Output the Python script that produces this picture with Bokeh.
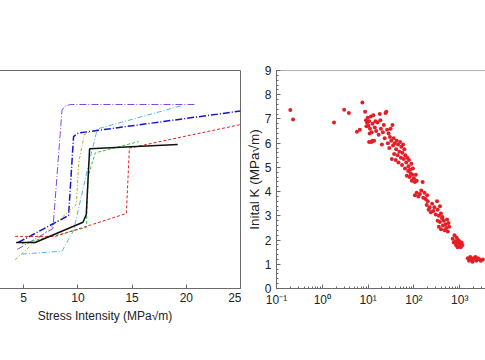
from bokeh.plotting import figure
from bokeh.models import Row, Span, Label, FixedTicker, LogTicker, CustomJSTickFormatter
from bokeh.embed import file_html
from bokeh.resources import INLINE

# ---------------- data: left panel (V-K curves) ----------------
k_ticks = [5, 10, 15, 20, 25]
purple_k = [4.40, 7.70, 8.53, 8.74, 9.29, 20.93]
purple_v = [-9.21, -8.25, -2.83, -2.65, -2.56, -2.56]
navy_k = [4.49, 9.14, 9.60, 10.03, 25.0]
navy_v = [-8.89, -7.65, -4.03, -3.87, -2.86]
cyan_k = [4.83, 8.53, 9.60, 11.14, 11.79, 19.59]
cyan_v = [-9.42, -9.29, -8.34, -4.99, -3.68, -2.61]
olive_k = [4.21, 9.85, 10.08, 10.59, 11.05]
olive_v = [-9.68, -7.15, -5.22, -3.94, -3.82]
green_k = [4.83, 7.91, 10.77, 10.96, 11.60, 15.60]
green_v = [-8.94, -8.57, -8.20, -5.82, -4.78, -4.26]
red_k = [4.21, 7.91, 14.47, 14.75, 25.0]
red_v = [-8.61, -8.61, -7.56, -4.56, -3.48]
black_k = [4.30, 6.06, 10.47, 10.77, 11.08, 19.21]
black_v = [-8.89, -8.89, -7.96, -7.61, -4.59, -4.39]

# ---------------- data: right panel (failure time vs initial K) ----------------
fail_hours = [
    0.2, 0.23, 1.8, 3.0, 3.8, 5.7, 6.6, 7.5, 8.6,
    9.0, 9.5, 9.8, 10.2, 10.5, 11, 11.5, 12, 12.5, 13, 10.8, 11.8, 13.5, 14, 14.5, 15, 9.2, 16,
    17, 18, 18.5, 19, 20, 21, 22, 23, 24, 25, 26, 27, 28, 29, 30, 31, 32, 33, 34, 35, 36, 37,
    38, 40, 41, 42, 44, 45, 46, 48, 50, 52, 53, 55, 56, 58, 60, 62, 64, 65, 68, 70, 72, 75, 76,
    78, 80, 82, 85, 88, 90, 92, 95, 100, 105, 110, 115, 10.5, 12.5,
    105, 115, 125, 135, 145, 160, 170, 180, 195, 155,
    190, 200, 210, 220, 235, 250, 265, 280, 300, 320, 330, 350, 370, 390, 420,
    330, 350, 370, 390, 410, 430, 450, 470, 490, 510, 530, 550, 570, 590,
    700, 740, 770, 800, 830, 860, 890, 920, 950, 980, 1010, 1050, 1100, 1150, 900,
    1500, 1600, 1700, 1800, 1900, 2000, 2100, 2200, 2300, 2500, 2700, 2900, 3200,
]
init_k = [
    7.37, 6.98, 6.85, 7.38, 7.25, 6.47, 6.55, 7.68, 7.30,
    6.95, 6.85, 7.05, 6.72, 6.90, 6.60, 7.10, 6.45, 6.80, 7.15, 6.40, 6.05, 6.10, 6.65, 6.90, 6.50, 6.70, 6.85,
    6.35, 7.20, 6.95, 6.60, 5.95, 6.45, 6.75, 6.20, 7.25, 7.30, 6.55, 6.00, 6.40, 5.80, 6.25, 6.60, 6.10, 5.35, 6.75, 5.90, 6.20, 5.55,
    6.00, 5.30, 5.75, 6.10, 5.50, 5.95, 5.20, 5.65, 6.05, 5.40, 5.85, 5.10, 5.60, 5.95, 5.35, 5.75, 4.95, 5.50, 5.20, 4.65, 5.40, 4.85, 5.05,
    5.30, 4.60, 4.90, 4.75, 5.15, 4.45, 4.70, 4.95, 4.55, 4.40, 4.70, 4.45, 6.05, 6.10,
    3.85, 3.95, 3.80, 3.90, 4.05, 3.75, 3.95, 3.70, 3.85, 4.40,
    3.45, 3.60, 3.25, 3.35, 3.15, 3.50, 3.20, 3.35, 3.05, 3.60, 3.25, 3.00, 3.40, 3.10, 2.95,
    2.80, 2.55, 2.75, 2.45, 2.90, 2.60, 2.80, 2.40, 2.65, 2.50, 2.85, 2.35, 2.70, 2.55,
    2.05, 1.90, 2.20, 1.95, 1.80, 2.10, 1.85, 2.00, 1.75, 1.95, 1.85, 1.70, 1.90, 1.80, 1.70,
    1.25, 1.15, 1.30, 1.20, 1.10, 1.25, 1.20, 1.30, 1.15, 1.25, 1.20, 1.15, 1.20,
]
k_axis_ticks = [0, 1, 2, 3, 4, 5, 6, 7, 8, 9]

FONT = "Liberation Sans"
AX = "#6a6a6a"
TXT = "#222222"


def style_axis(ax, label_size="12px"):
    ax.axis_line_color = AX
    ax.major_tick_line_color = AX
    ax.minor_tick_line_color = AX
    ax.major_tick_in = 4
    ax.major_tick_out = 0
    ax.minor_tick_in = 2
    ax.minor_tick_out = 0
    ax.major_label_text_font = FONT
    ax.major_label_text_font_size = "12px"
    ax.major_label_text_color = TXT
    ax.axis_label_text_font = FONT
    ax.axis_label_text_font_size = label_size
    ax.axis_label_text_font_style = "normal"
    ax.axis_label_text_color = TXT


# ---------------- left panel ----------------
left = figure(width=272, height=350, x_range=(0, 25), y_range=(-11, -1),
              output_backend="svg", toolbar_location=None, y_axis_location=None,
              min_border_left=0, min_border_right=1, min_border_top=70, min_border_bottom=62)
left.grid.visible = False
left.outline_line_color = AX
left.background_fill_color = None
left.border_fill_color = None
left.xaxis.ticker = FixedTicker(ticks=k_ticks, minor_ticks=[])
left.xaxis.axis_label = "Stress Intensity (MPa\u221am)"
style_axis(left.xaxis[0])
left.xaxis.major_label_standoff = 4
left.xaxis.axis_label_standoff = 4

left.line(purple_k, purple_v, line_color="#8447e6", line_width=1, line_dash="7 2 1 2")
left.line(cyan_k, cyan_v, line_color="#52b6e6", line_width=1, line_dash="5 2 1 2")
left.line(navy_k, navy_v, line_color="#1515c8", line_width=1.5, line_dash="7 2 1 2")
left.line(olive_k, olive_v, line_color="#b5b01e", line_width=1, line_dash="3 2 1 2")
left.line(green_k, green_v, line_color="#2fc82f", line_width=1, line_dash="3 2")
left.line(red_k, red_v, line_color="#e02222", line_width=1, line_dash="3 2")
left.line(black_k, black_v, line_color="#111111", line_width=1.5)

# ---------------- right panel ----------------
right = figure(width=244, height=350, x_axis_type="log", x_range=(0.1, 3656), y_range=(0, 9),
               output_backend="svg", toolbar_location=None,
               min_border_left=35, min_border_right=0, min_border_top=70, min_border_bottom=62)
right.grid.visible = False
right.outline_line_color = None
right.background_fill_color = None
right.border_fill_color = None
right.add_layout(Span(location=9, dimension="width", line_color=AX, line_width=1))

right.xaxis.ticker = LogTicker(desired_num_ticks=6, num_minor_ticks=10)
right.xaxis.formatter = CustomJSTickFormatter(code="""
const e = Math.round(Math.log10(tick));
const sup = {'-':'\u207b','0':'\u2070','1':'\u00b9','2':'\u00b2','3':'\u00b3','4':'\u2074','5':'\u2075','6':'\u2076','7':'\u2077','8':'\u2078','9':'\u2079'};
return '10' + String(e).split('').map(c => sup[c]).join('');
""")
style_axis(right.xaxis[0])
right.xaxis.major_label_standoff = 4

right.yaxis.ticker = FixedTicker(ticks=k_axis_ticks,
                                 minor_ticks=[t / 5 for t in range(0, 46)])
right.yaxis.axis_label = "Inital K (MPa\u221am)"
style_axis(right.yaxis[0], "13.5px")
right.yaxis.major_label_standoff = 5
right.yaxis.axis_label_standoff = 0

right.scatter(fail_hours, init_k, size=4, color="#e41e26", line_color=None)

right.add_layout(Label(x=93, y=-1.2, text="Failure Time (h)", text_align="center",
                       text_baseline="middle", text_font=FONT, text_font_size="12.5px",
                       text_color=TXT))

layout = Row(children=[left, right], margin=(0, 0, 0, -31))

with open("out.html", "w") as f:
    f.write(file_html(layout, INLINE))
